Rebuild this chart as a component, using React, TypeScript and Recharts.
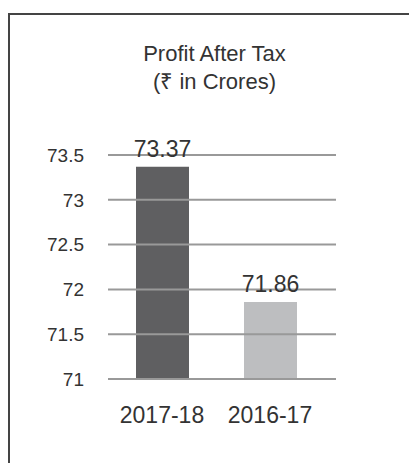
import React from 'react';
import { BarChart, Bar, XAxis, YAxis, Cell, LabelList, ReferenceLine } from 'recharts';

const years = ['2017-18', '2016-17'];
const profit = [73.37, 71.86];
const barColors = ['#5f5f61', '#bdbec0'];
const yTicks = [71, 71.5, 72, 72.5, 73, 73.5];

const data = years.map((year, i) => ({ year, value: profit[i] }));

const font = '"Liberation Sans", Arial, sans-serif';

const App = () => {
  return (
    <div
      style={{
        position: 'absolute',
        left: 8,
        top: 13,
        width: 399,
        height: 448,
        borderTop: '2px solid #444',
        borderLeft: '2px solid #444',
        fontFamily: font,
      }}
    >
      <div
        style={{
          position: 'absolute',
          left: 0,
          top: 25,
          width: 409,
          textAlign: 'center',
          fontSize: 22,
          lineHeight: '28px',
          color: '#333',
        }}
      >
        Profit After Tax
        <br />
        (₹ in Crores)
      </div>
      <BarChart
        width={399}
        height={448}
        data={data}
        margin={{ top: 140, right: 73, bottom: 44, left: 0 }}
      >
        <XAxis
          dataKey='year'
          axisLine={false}
          tickLine={false}
          tickSize={0}
          tickMargin={28}
          height={40}
          padding={{ left: 0, right: 12 }}
          tick={{ fill: '#333', fontSize: 23, fontFamily: font }}
        />
        <YAxis
          domain={[71, 73.5]}
          ticks={yTicks}
          axisLine={false}
          tickLine={false}
          tickSize={0}
          tickMargin={24}
          width={98}
          tick={{ fill: '#333', fontSize: 19, fontFamily: font }}
        />
        <Bar dataKey='value' barSize={53} isAnimationActive={false}>
          {data.map((d, i) => (
            <Cell key={d.year} fill={barColors[i]} />
          ))}
          <LabelList
            dataKey='value'
            position='top'
            offset={10}
            style={{ fill: '#333', fontSize: 23, fontFamily: font }}
          />
        </Bar>
        {yTicks.map((t) => (
          <ReferenceLine key={t} y={t} stroke='#999' strokeWidth={2} />
        ))}
      </BarChart>
    </div>
  );
};

export default App;
